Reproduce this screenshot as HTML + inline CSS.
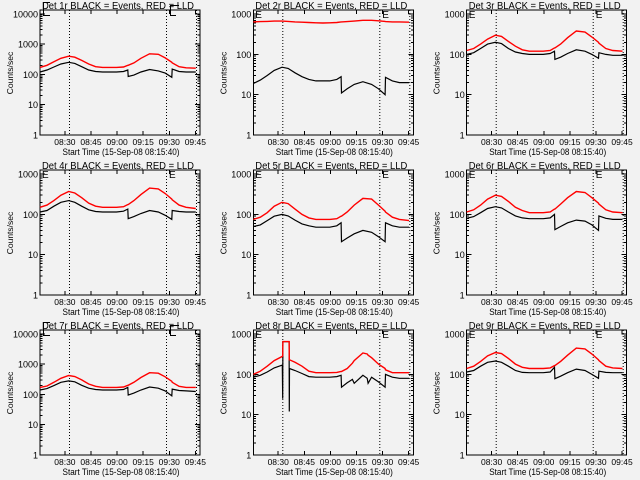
<!DOCTYPE html>
<html><head><meta charset="utf-8"><style>
html,body{margin:0;padding:0;background:#f2f2f2}
svg{display:block}
text{font-family:"Liberation Sans",sans-serif;fill:#000}
</style></head><body>
<svg id="c" width="640" height="480" viewBox="0 0 640 480" shape-rendering="crispEdges"></svg>
<script>
const T = [0,4,8,12,16.5,20,24,28,32,36,40,44,48,50.5,50.7,54,58,63,68,72,75.8,76,80,84,89.6];
const T8 = [0,4,8,12,16.7,16.9,17.0,20.6,20.7,20.8,24,28,32,36,40,44,48,50.5,50.7,54,57,58,63,65.5,66,68,72,75.8,76,80,84,89.6];
const panelNames = ["1r","2r","3r","4r","5r","6r","7r","8r","9r"];
const decades = [4,3,3,3,3,3,4,3,3];
const tickLabels = ["08:30","08:45","09:00","09:15","09:30","09:45"];
const tickMinutes = [14.33,29.33,44.33,59.33,74.33,89.33];
const markerMinutes = [16.7,72.7,89.7];
const red1 = [170,200,260,340,400,370,290,220,180,170,170,170,175,200,200,240,340,480,460,350,250,240,180,165,160];
const blk1 = [120,140,175,220,250,230,180,140,125,120,120,120,125,140,85,95,120,145,130,110,80,150,125,120,120];
const red2 = [640,650,660,670,670,660,640,630,620,610,600,610,620,640,640,650,670,700,700,680,660,650,640,640,630];
const blk2 = [19,23,30,40,48,45,35,28,24,22,22,22,24,28,11,14,18,21,18,14,10,27,22,20,20];
const red3 = [125,140,180,240,300,280,210,160,130,120,120,120,125,145,145,180,260,380,360,270,200,190,140,125,120];
const blk3 = [100,110,140,180,200,185,140,115,105,100,100,100,105,120,75,85,105,130,120,100,80,110,100,95,95];
const red4 = [150,170,220,300,370,340,260,190,160,150,150,150,155,175,175,220,310,450,430,330,240,230,170,150,140];
const blk4 = [115,125,160,200,220,200,160,130,118,115,115,115,120,135,78,88,105,125,115,95,75,125,118,115,115];
const red5 = [75,85,110,160,200,185,135,100,82,75,75,75,78,90,90,115,170,250,240,170,120,115,85,75,70];
const blk5 = [50,55,70,90,100,92,72,58,52,48,48,48,52,62,21,26,33,40,36,28,21,62,52,48,48];
const red6 = [115,130,170,240,300,280,210,150,125,110,110,110,115,135,135,180,260,370,350,260,190,180,130,115,110];
const blk6 = [80,88,110,140,155,145,115,92,82,78,78,78,82,100,42,50,62,72,68,55,40,92,80,75,75];
const red7 = [170,190,250,340,420,390,300,220,185,170,170,170,175,200,200,250,360,520,500,380,270,250,185,170,170];
const blk7 = [140,155,195,250,280,260,200,160,145,140,140,140,145,170,95,110,140,175,160,130,90,150,135,130,125];
const red8 = [100,120,160,220,280,290,650,650,230,230,200,160,120,110,110,110,112,118,118,140,190,220,340,320,300,260,180,140,130,110,110,110];
const blk8 = [85,95,115,145,170,25,650,650,12,140,125,105,88,85,85,85,88,95,48,62,75,60,95,80,60,85,65,48,100,85,80,80];
const red9 = [140,160,210,290,350,330,250,180,150,140,140,140,145,165,165,210,300,450,430,320,230,220,160,145,140];
const blk9 = [115,125,160,200,215,200,160,125,112,110,110,110,115,150,78,90,110,135,125,100,80,120,112,110,110];
const redSeries = [red1,red2,red3,red4,red5,red6,red7,red8,red9];
const blackSeries = [blk1,blk2,blk3,blk4,blk5,blk6,blk7,blk8,blk9];

const NS = "http://www.w3.org/2000/svg";
const svg = document.getElementById("c");
function mk(tag, attrs, parent){
  const e = document.createElementNS(NS, tag);
  for (const k in attrs) e.setAttribute(k, attrs[k]);
  parent.appendChild(e);
  return e;
}
const X0 = 40, X1 = 200, YB = 135, YT = 10, PXMIN = 1.739;
function xScale(m){ return X0 + m * PXMIN; }

for (let p = 0; p < 9; p++){
  const ox = (p % 3) * 213.33, oy = Math.floor(p / 3) * 160;
  const g = mk("g", {transform: "translate(" + ox.toFixed(1) + "," + oy + ")"}, svg);
  
  
  const nd = decades[p];
  const perDec = nd === 4 ? 30.3 : 40.3;
  const yScale = v => YB - Math.log10(Math.max(v, 1)) * perDec;
  const tl = mk("text", {x: 118, y: 9, "text-anchor": "middle", "font-size": "10", textLength: "152", lengthAdjust: "spacingAndGlyphs"}, g);
  tl.textContent = "Det " + panelNames[p] + " BLACK = Events, RED = LLD";
  
  
  const box = mk("rect", {x: X0, y: YT, width: X1 - X0, height: YB - YT, fill: "none", stroke: "#000", "stroke-width": 1}, g);
  
  
  // y ticks
  for (let d = 0; d <= nd; d++){
    const y = yScale(Math.pow(10, d));
    mk("line", {x1: X0, x2: X0 + 5, y1: y, y2: y, stroke: "#000"}, g);
    mk("line", {x1: X1 - 5, x2: X1, y1: y, y2: y, stroke: "#000"}, g);
    const lab = mk("text", {x: 38, y: y + 3.5, "text-anchor": "end", "font-size": "9"}, g);
    lab.textContent = String(Math.pow(10, d));
    
    
    if (d < nd) for (let k = 2; k <= 9; k++){
      const ym = yScale(k * Math.pow(10, d));
      if (ym < YT) break;
      mk("line", {x1: X0, x2: X0 + 2.5, y1: ym, y2: ym, stroke: "#000"}, g);
      mk("line", {x1: X1 - 2.5, x2: X1, y1: ym, y2: ym, stroke: "#000"}, g);
    }
  }
  // x ticks
  tickMinutes.forEach((m, i) => {
    const x = xScale(m);
    mk("line", {x1: x, x2: x, y1: YB, y2: YB - 4, stroke: "#000"}, g);
    mk("line", {x1: x, x2: x, y1: YT, y2: YT + 4, stroke: "#000"}, g);
    const lab = mk("text", {x: x, y: 145, "text-anchor": "middle", "font-size": "8.5"}, g);
    lab.textContent = tickLabels[i];
    
    
  });
  const xt = mk("text", {x: 121, y: 155, "text-anchor": "middle", "font-size": "9.5", textLength: "117", lengthAdjust: "spacingAndGlyphs"}, g);
  xt.textContent = "Start Time (15-Sep-08 08:15:40)";
  
  
  const yt = mk("text", {x: 0, y: 0, "text-anchor": "middle", "font-size": "8.5", transform: "translate(13,73) rotate(-90)"}, g);
  yt.textContent = "Counts/sec";
  
  
  // markers
  markerMinutes.forEach(m => {
    const x = Math.round(xScale(m)) + 0.5;
    const ml = mk("line", {x1: x, x2: x, y1: YT, y2: YB, stroke: "#000", "stroke-dasharray": "1,2", "shape-rendering": "auto"}, g);
    
    
  });
  if (nd === 4){
    mk("path", {d: "M50,2.5 H43.5 V15.5 H50", fill: "none", stroke: "#000"}, g);
    mk("path", {d: "M179,5.5 H170.5 V15.5 H176", fill: "none", stroke: "#000"}, g);
  } else {
    [42, 169].forEach(x => {
      const e = mk("text", {x: x, y: 18, "font-size": "10"}, g);
      e.textContent = "E";
      
      
    });
  }
  const times = p === 7 ? T8 : T;
  const mkPath = vals => vals.map((v, i) => (i ? "L" : "M") + xScale(times[i]).toFixed(1) + "," + yScale(v).toFixed(1)).join(" ");
  const bl = mk("path", {d: mkPath(blackSeries[p]), fill: "none", stroke: "#000", "stroke-width": 1.2, "shape-rendering": "auto"}, g);
  
  
  const rl = mk("path", {d: mkPath(redSeries[p]), fill: "none", stroke: "#ff0000", "stroke-width": 1.4, "shape-rendering": "auto"}, g);
  
  
}
</script>
</body></html>
